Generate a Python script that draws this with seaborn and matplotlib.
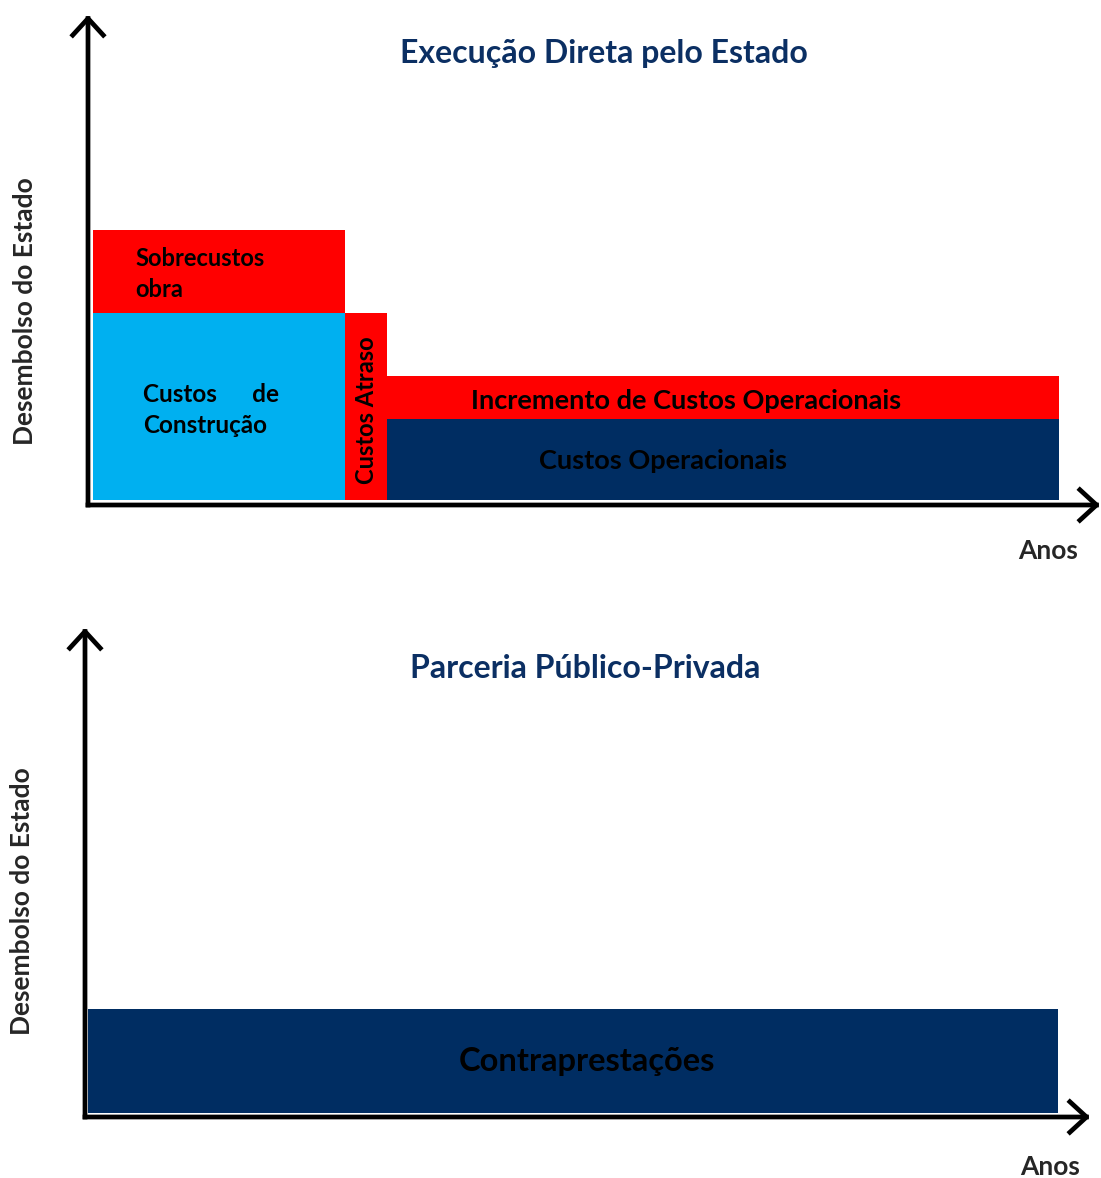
import matplotlib
matplotlib.use("Agg")
import matplotlib.pyplot as plt
import seaborn as sns

# ---------------- data ----------------
# Painel superior: Execução Direta pelo Estado (anos / unidades de desembolso)
blocos_inicio = [0.0, 0.0, 6.0, 7.0, 7.0]
blocos_duracao = [6.0, 6.0, 1.0, 16.0, 16.0]
blocos_base = [0.0, 4.5, 0.0, 0.0, 1.95]
blocos_altura = [4.5, 2.0, 4.5, 1.95, 1.05]
blocos_nome = ["Custos de Construção", "Sobrecustos obra", "Custos Atraso",
               "Custos Operacionais", "Incremento de Custos Operacionais"]
blocos_tipo = ["construcao", "sobrecusto", "sobrecusto", "operacao", "sobrecusto"]

# Painel inferior: Parceria Público-Privada
ppp_inicio = [0.0]
ppp_duracao = [23.1]
ppp_altura = [2.5]
ppp_nome = ["Contraprestações"]

titulos = ["Execução Direta pelo Estado", "Parceria Público-Privada"]
rotulo_y = "Desembolso do Estado"
rotulo_x = "Anos"

# ---------------- style ----------------
sns.set_theme(style="white")
plt.rcParams["font.family"] = ["Lato", "DejaVu Sans"]
plt.rcParams["font.weight"] = "bold"

cores = {"construcao": "#00B0F0", "sobrecusto": "#FF0000", "operacao": "#002D62"}
navy = "#0B2F63"

W, H = 1101, 1178
fig = plt.figure(figsize=(W / 100, H / 100), dpi=100)


def make_axes(x0, y0, x1, y1):
    # pixel box (x0 left, y0 bottom from top, x1 right, y1 top from top)
    return fig.add_axes([x0 / W, (H - y0) / H, (x1 - x0) / W, (y0 - y1) / H])


def draw_axes_arrows(ax):
    for xy in [(1.0, 0.0), (0.0, 1.0)]:
        ax.annotate("", xy=xy, xytext=(0, 0), xycoords="axes fraction",
                    arrowprops=dict(arrowstyle="->,head_length=0.6,head_width=0.55",
                                    lw=3.4, color="black", mutation_scale=20,
                                    shrinkA=0, shrinkB=0, capstyle="projecting"),
                    annotation_clip=False)
    for s in ax.spines.values():
        s.set_visible(False)
    ax.set_xticks([])
    ax.set_yticks([])


px_x = 42.0   # pixels per year
px_y = 41.5   # pixels per unit

# ---- top panel ----
ax1 = make_axes(88, 505, 1100, 15)
ax1.set_xlim(-5 / px_x, (1100 - 88 - 5) / px_x)
ax1.set_ylim(-5 / px_y, (505 - 15 - 5) / px_y)
ax1.bar(blocos_inicio, blocos_altura, width=blocos_duracao, bottom=blocos_base,
        align="edge", color=[cores[t] for t in blocos_tipo], edgecolor="none")
draw_axes_arrows(ax1)

ax1.text(1.0, 5.45, "Sobrecustos\nobra", fontsize=17, ha="left", va="center",
         linespacing=1.4, color="black")
ax1.text(1.2, 2.17, "Custos      de\nConstrução", fontsize=17.5, ha="left", va="center",
         linespacing=1.4, color="black")
ax1.text(6.5, 2.17, "Custos Atraso", fontsize=17, ha="center", va="center",
         rotation=90, color="black")
ax1.text(14.12, 2.39, "Incremento de Custos Operacionais", fontsize=19.5,
         ha="center", va="center", color="black")
ax1.text(13.57, 0.94, "Custos Operacionais", fontsize=19.5, ha="center", va="center",
         color="black")

# ---- bottom panel ----
ax2 = make_axes(85, 1117, 1090, 628)
ax2.set_xlim(-3 / px_x, (1090 - 85 - 3) / px_x)
ax2.set_ylim(-4 / px_y, (1117 - 628 - 4) / px_y)
ax2.bar(ppp_inicio, ppp_altura, width=ppp_duracao, align="edge",
        color=cores["operacao"], edgecolor="none")
draw_axes_arrows(ax2)
ax2.text(11.88, 1.23, ppp_nome[0], fontsize=23.5, ha="center", va="center", color="black")

# ---- figure texts ----
fig.text(604 / W, 1 - 53 / H, titulos[0], fontsize=23, color=navy, ha="center", va="center")
fig.text(585 / W, 1 - 669 / H, titulos[1], fontsize=23, color=navy, ha="center", va="center")
fig.text(25 / W, 1 - 311 / H, rotulo_y, fontsize=19, rotation=90, ha="center", va="center")
fig.text(22 / W, 1 - 901 / H, rotulo_y, fontsize=19, rotation=90, ha="center", va="center")
fig.text(1048 / W, 1 - 551 / H, rotulo_x, fontsize=19, ha="center", va="center")
fig.text(1050 / W, 1 - 1167 / H, rotulo_x, fontsize=19, ha="center", va="center")

fig.savefig("out.png", dpi=100, facecolor="white")
